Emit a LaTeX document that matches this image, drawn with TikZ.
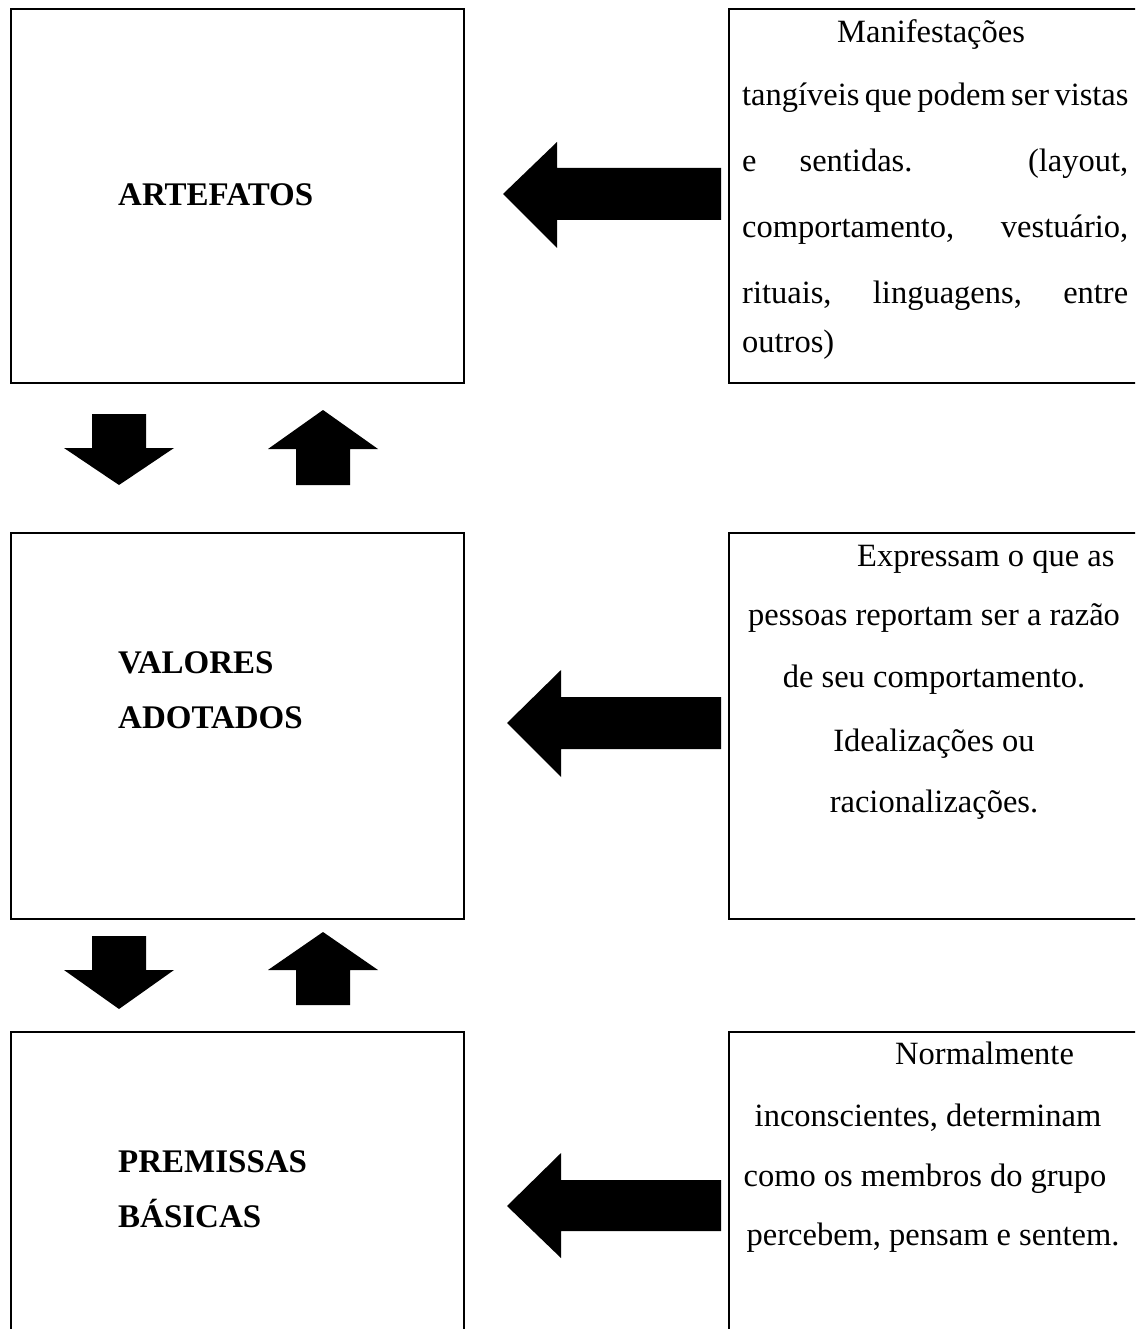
\documentclass[tikz,border=0pt]{standalone}
\usepackage{fontspec}
\setmainfont{Liberation Serif}
\begin{document}
\begin{tikzpicture}[x=1pt,y=-1pt,
  frame/.style={draw=black,line width=2.2pt},
  blockarrow/.style={fill=black,draw=none},
  label/.style={inner sep=0pt,font=\fontsize{33}{38}\selectfont\bfseries,anchor=base west},
  body/.style={inner sep=0pt,font=\fontsize{32.5}{38}\selectfont,anchor=base}]
\useasboundingbox (0,0) rectangle (1135,1329);
\clip (0,0) rectangle (1135,1329);

% layer boxes on the left
\node[frame,anchor=north west,minimum width=453pt,minimum height=374pt] (art) at (10,8) {};
\node[frame,anchor=north west,minimum width=453pt,minimum height=386pt] (val) at (10,532) {};
\node[frame,anchor=north west,minimum width=453pt,minimum height=400pt] (pre) at (10,1031) {};

% description boxes on the right (open past the page edge)
\node[frame,anchor=north west,minimum width=420pt,minimum height=374pt] (dart) at (728,8) {};
\node[frame,anchor=north west,minimum width=420pt,minimum height=386pt] (dval) at (728,532) {};
\node[frame,anchor=north west,minimum width=420pt,minimum height=400pt] (dpre) at (728,1031) {};

% layer names
\node[label] (tart) at (118,206) {ARTEFATOS};
\node[label] (tval1) at (118,673) {VALORES};
\node[label] (tval2) at (118,728) {ADOTADOS};
\node[label] (tpre1) at (118,1172) {PREMISSAS};
\node[label] (tpre2) at (118,1227) {BÁSICAS};

% description of the artefacts
\node[body,anchor=base west] (a1) at (837,43) {Manifestações};
\node[body,anchor=base west] (a2) at (742,106) {\makebox[386pt][s]{tangíveis que podem ser vistas}};
\node[body,anchor=base west] (a3) at (742,172) {\makebox[386pt][s]{e sentidas. (layout,}};
\node[body,anchor=base west] (a4) at (742,238) {\makebox[386pt][s]{comportamento, vestuário,}};
\node[body,anchor=base west] (a5) at (742,304) {\makebox[386pt][s]{rituais, linguagens, entre}};
\node[body,anchor=base west] (a6) at (742,352) {outros)};

% description of the espoused values
\node[body,anchor=base west] (v1) at (857,566) {Expressam o que as};
\node[body] (v2) at (934,625) {pessoas reportam ser a razão};
\node[body] (v3) at (934,687) {de seu comportamento.};
\node[body] (v4) at (934,751) {Idealizações ou};
\node[body] (v5) at (934,812) {racionalizações.};

% description of the basic assumptions
\node[body,anchor=base west] (p1) at (895,1064) {Normalmente};
\node[body] (p2) at (928,1126) {inconscientes, determinam};
\node[body] (p3) at (925,1186) {como os membros do grupo};
\node[body] (p4) at (933,1245) {percebem, pensam e sentem.};

% horizontal block arrows pointing at the layers
\fill[blockarrow] (503,194) -- (557,142) -- (557,168) -- (721,168) -- (721,220) -- (557,220) -- (557,248) -- cycle;
\fill[blockarrow] (507,723) -- (561,670) -- (561,697) -- (721,697) -- (721,749) -- (561,749) -- (561,777) -- cycle;
\fill[blockarrow] (507,1206) -- (561,1153) -- (561,1180) -- (721,1180) -- (721,1231) -- (561,1231) -- (561,1258) -- cycle;

% vertical block arrows between the layers
\fill[blockarrow] (92,414) -- (146,414) -- (146,448) -- (174,448) -- (119,485) -- (64,448) -- (92,448) -- cycle;
\fill[blockarrow] (296,485) -- (350,485) -- (350,449) -- (378,449) -- (323,410) -- (268,449) -- (296,449) -- cycle;
\fill[blockarrow] (92,936) -- (146,936) -- (146,970) -- (174,970) -- (119,1009) -- (64,970) -- (92,970) -- cycle;
\fill[blockarrow] (296,1005) -- (350,1005) -- (350,970) -- (378,970) -- (323,932) -- (268,970) -- (296,970) -- cycle;
\end{tikzpicture}
\end{document}
